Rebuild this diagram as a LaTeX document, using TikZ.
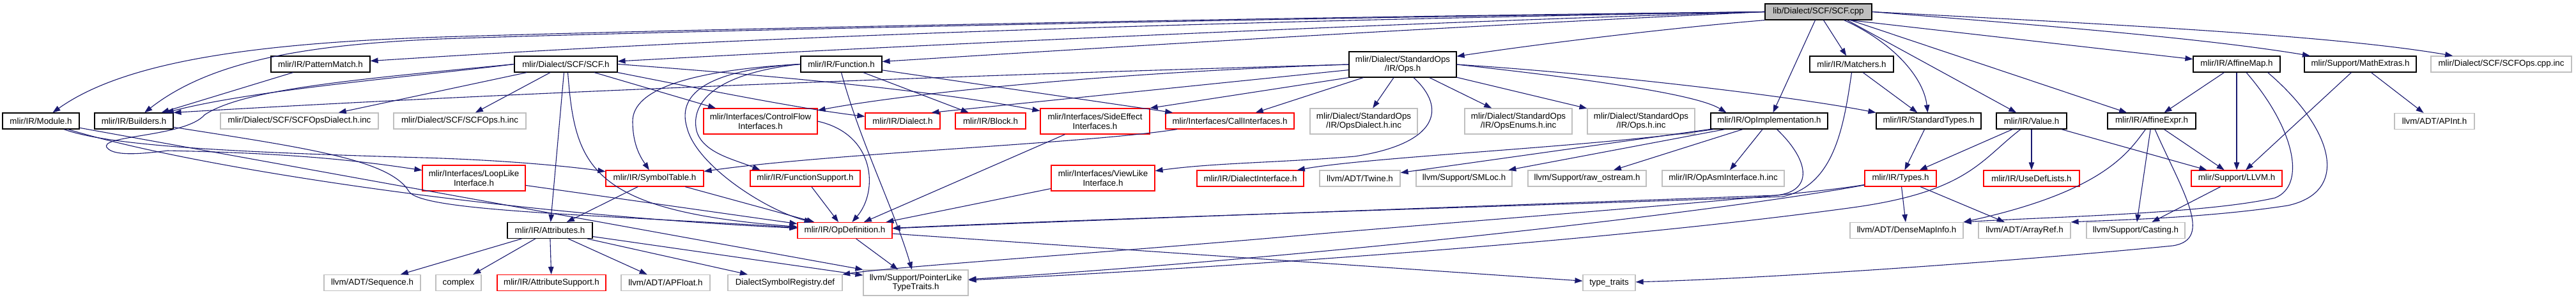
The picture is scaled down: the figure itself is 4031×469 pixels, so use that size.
\documentclass[tikz,border=0pt]{standalone}
\usepackage{fontspec}
\setmainfont{Liberation Sans}
\usepackage{tikz}
\usetikzlibrary{arrows.meta,calc}
\definecolor{edgeblue}{RGB}{25,25,112}
\definecolor{grey75}{RGB}{191,191,191}
\definecolor{truncred}{RGB}{255,0,0}
\newcommand{\nodefont}{\fontsize{13.33pt}{14.5pt}\selectfont}

\begin{document}
\begin{tikzpicture}[
  x=1pt, y=-1pt,
  hdr/.style={draw=black, fill=white, line width=1.15pt, minimum height=25pt, inner sep=0pt, font=\nodefont, align=center},
  ext/.style={hdr, draw=grey75},
  trunc/.style={hdr, draw=truncred},
  src/.style={hdr, fill=grey75},
  two/.style={minimum height=40pt},
  dep/.style={draw=edgeblue, line width=1.1pt, -{Triangle[length=12pt,width=8.5pt]}},
]
\path[use as bounding box, fill=white] (0,0) rectangle (4031,469);

% source file
\node[src, minimum width=167pt] (root) at (2845.5,18.5) {lib/Dialect/SCF/SCF.cpp};

% first level
\node[hdr, minimum width=155pt] (pm) at (501.5,100.5) {mlir/IR/PatternMatch.h};
\node[hdr, minimum width=161pt] (scf) at (885.5,100.5) {mlir/Dialect/SCF/SCF.h};
\node[hdr, minimum width=127pt] (fn) at (1316.5,100.5) {mlir/IR/Function.h};
\node[hdr, two, minimum width=168pt] (ops) at (2195,101) {mlir/Dialect/StandardOps\\/IR/Ops.h};
\node[hdr, minimum width=131pt] (match) at (2897.5,100.5) {mlir/IR/Matchers.h};
\node[hdr, minimum width=136pt] (amap) at (3500,100.5) {mlir/IR/AffineMap.h};
\node[hdr, minimum width=175pt] (mext) at (3693.5,100.5) {mlir/Support/MathExtras.h};
\node[ext, minimum width=220pt] (cppinc) at (3914,100.5) {mlir/Dialect/SCF/SCFOps.cpp.inc};

% second level
\node[hdr, minimum width=120pt] (module) at (64,189.5) {mlir/IR/Module.h};
\node[hdr, minimum width=123pt] (build) at (209.5,189.5) {mlir/IR/Builders.h};
\node[ext, minimum width=247pt] (dialinc) at (468.5,189.5) {mlir/Dialect/SCF/SCFOpsDialect.h.inc};
\node[ext, minimum width=207pt] (opsinc) at (719.5,189.5) {mlir/Dialect/SCF/SCFOps.h.inc};
\node[trunc, two, minimum width=178pt] (cfi) at (1190,190) {mlir/Interfaces/ControlFlow\\Interfaces.h};
\node[trunc, minimum width=117pt] (dial) at (1412.5,189.5) {mlir/IR/Dialect.h};
\node[trunc, minimum width=110pt] (block) at (1550,189.5) {mlir/IR/Block.h};
\node[trunc, two, minimum width=171pt] (sei) at (1713.5,190) {mlir/Interfaces/SideEffect\\Interfaces.h};
\node[trunc, minimum width=201pt] (cai) at (1924.5,189.5) {mlir/Interfaces/CallInterfaces.h};
\node[ext, two, minimum width=168pt] (stddial) at (2134,190) {mlir/Dialect/StandardOps\\/IR/OpsDialect.h.inc};
\node[ext, two, minimum width=168pt] (stdenum) at (2376,190) {mlir/Dialect/StandardOps\\/IR/OpsEnums.h.inc};
\node[ext, two, minimum width=168pt] (stdinc) at (2568,190) {mlir/Dialect/StandardOps\\/IR/Ops.h.inc};
\node[hdr, minimum width=183pt] (opimpl) at (2768.5,189.5) {mlir/IR/OpImplementation.h};
\node[hdr, minimum width=164pt] (stypes) at (3018,189.5) {mlir/IR/StandardTypes.h};
\node[hdr, minimum width=110pt] (value) at (3179,189.5) {mlir/IR/Value.h};
\node[hdr, minimum width=138pt] (aexpr) at (3367,189.5) {mlir/IR/AffineExpr.h};
\node[ext, minimum width=125pt] (apint) at (3809.5,190) {llvm/ADT/APInt.h};

% third level
\node[trunc, two, minimum width=161pt] (loop) at (741.5,279) {mlir/Interfaces/LoopLike\\Interface.h};
\node[trunc, minimum width=153pt] (symtab) at (1024.5,279.5) {mlir/IR/SymbolTable.h};
\node[trunc, minimum width=172pt] (fsup) at (1260,279.5) {mlir/IR/FunctionSupport.h};
\node[trunc, two, minimum width=162pt] (view) at (1726,279) {mlir/Interfaces/ViewLike\\Interface.h};
\node[trunc, minimum width=167pt] (dint) at (1956.5,279.5) {mlir/IR/DialectInterface.h};
\node[ext, minimum width=126pt] (twine) at (2128,279.5) {llvm/ADT/Twine.h};
\node[ext, minimum width=150pt] (smloc) at (2291,279.5) {llvm/Support/SMLoc.h};
\node[ext, minimum width=185pt] (rawos) at (2483.5,279.5) {llvm/Support/raw\_ostream.h};
\node[ext, minimum width=191pt] (asminc) at (2696.5,279.5) {mlir/IR/OpAsmInterface.h.inc};
\node[trunc, minimum width=112pt] (types) at (2974,279.5) {mlir/IR/Types.h};
\node[trunc, minimum width=150pt] (usedef) at (3179,279.5) {mlir/IR/UseDefLists.h};
\node[trunc, minimum width=142pt] (llvm) at (3500,279.5) {mlir/Support/LLVM.h};

% fourth level
\node[hdr, minimum width=133pt] (attr) at (860.5,361) {mlir/IR/Attributes.h};
\node[trunc, minimum width=148pt] (opdef) at (1322,361) {mlir/IR/OpDefinition.h};
\node[ext, minimum width=177pt] (dmi) at (2983.5,361) {llvm/ADT/DenseMapInfo.h};
\node[ext, minimum width=144pt] (aref) at (3168,361) {llvm/ADT/ArrayRef.h};
\node[ext, minimum width=154pt] (cast) at (3342,361) {llvm/Support/Casting.h};

% bottom level
\node[ext, minimum width=151pt] (seq) at (582.5,443) {llvm/ADT/Sequence.h};
\node[ext, minimum width=71pt] (cplx) at (717.5,443) {complex};
\node[trunc, minimum width=170pt] (asup) at (863,443) {mlir/IR/AttributeSupport.h};
\node[ext, minimum width=139pt] (apf) at (1041.5,443) {llvm/ADT/APFloat.h};
\node[ext, minimum width=179pt] (dsr) at (1228.5,443) {DialectSymbolRegistry.def};
\node[ext, two, minimum width=164pt] (ptl) at (1433,443) {llvm/Support/PointerLike\\TypeTraits.h};
\node[ext, minimum width=82pt] (tt) at (2518,443) {type\_traits};

% includes of SCF.cpp
\draw[dep] (root.west) .. controls (1900,28) and (1000,48) .. (690,58) .. controls (380,68) and (190,100) .. (module);
\draw[dep] (root.west) .. controls (1900,30) and (1000,50) .. (690,61) .. controls (480,70) and (330,95) .. (build);
\draw[dep] (root.west) .. controls (1500,40) and (900,75) .. (pm);
\draw[dep] (root.west) .. controls (2200,35) and (1400,72) .. (scf);
\draw[dep] (root.west) .. controls (2300,40) and (1800,70) .. (fn);
\draw[dep] (root.south west) .. controls (2600,45) and (2400,70) .. (ops);
\draw[dep] ($(root.south)+(-5,0)$) -- (opimpl);
\draw[dep] ($(root.south)+(8,0)$) -- (match);
\draw[dep] ($(root.south)+(40,0)$) .. controls (2960,65) and (3010,120) .. (stypes);
\draw[dep] ($(root.south)+(45,0)$) -- (value);
\draw[dep] ($(root.south)+(50,0)$) -- (aexpr);
\draw[dep] ($(root.south east)+(-35,0)$) -- (amap);
\draw[dep] (root.east) .. controls (3200,40) and (3450,60) .. (mext);
\draw[dep] (root.east) .. controls (3300,38) and (3650,55) .. (cppinc);

% SCF.h
\draw[dep] (scf.west) .. controls (650,120) and (400,140) .. (build);
\draw[dep] (scf.west) .. controls (550,125) and (380,140) .. (320,180) .. controls (290,215) and (150,212) .. (168,232) .. controls (180,246) and (230,240) .. (262,236) .. controls (450,240) and (550,250) .. (loop);
\draw[dep] (scf) -- (dialinc);
\draw[dep] (scf) -- (opsinc);
\draw[dep] ($(scf.south)+(-3,0)$) -- (attr);
\draw[dep] ($(scf.south)+(3,0)$) .. controls (900,260) and (920,330) .. (opdef);
\draw[dep] (scf) -- (cfi);
\draw[dep] (scf.east) .. controls (1200,118) and (1450,140) .. (sei);
\draw[dep] (scf.south east) .. controls (1100,140) and (1250,170) .. (dial);
\draw[dep] (pm) -- (build);

% Function.h
\draw[dep] (fn) -- (block);
\draw[dep] (fn) -- (cai);
\draw[dep] (fn.west) .. controls (1080,110) and (990,140) .. (990,190) .. controls (990,230) and (1005,250) .. (symtab);
\draw[dep] (fn.west) .. controls (1100,110) and (1060,150) .. (1075,200) .. controls (1090,260) and (1200,330) .. (opdef);
\draw[dep] (fn.west) .. controls (1120,115) and (1080,160) .. (1090,205) .. controls (1100,240) and (1150,250) .. ($(fsup.north west)+(16,0)$);
\draw[dep] (fn.south) .. controls (1345,220) and (1400,330) .. (ptl);

% StandardOps/IR/Ops.h
\draw[dep] (ops.west) .. controls (1500,118) and (800,145) .. (build.north east);
\draw[dep] (ops) -- ($(dial.north)+(45,0)$);
\draw[dep] (ops.west) .. controls (1700,115) and (1400,150) .. (cfi);
\draw[dep] (ops.south west) -- (sei.north east);
\draw[dep] ($(ops.south west)+(23,0)$) -- (cai);
\draw[dep] ($(ops.south)+(17,0)$) .. controls (2265,170) and (2250,225) .. (2120,245) .. controls (2000,255) and (1900,255) .. (view);
\draw[dep] (ops) -- (stddial);
\draw[dep] (ops) -- (stdenum);
\draw[dep] (ops) -- (stdinc);
\draw[dep] (ops.east) .. controls (2450,120) and (2650,145) .. ($(opimpl.north west)+(25,0)$);
\draw[dep] (ops.east) .. controls (2500,115) and (2800,150) .. (stypes.north west);

% interfaces and tables
\draw[dep] (cfi.east) .. controls (1370,210) and (1375,300) .. (opdef);
\draw[dep] (sei) -- (opdef);
\draw[dep] (cai) .. controls (1700,225) and (1300,240) .. (symtab);
\draw[dep] (view) -- (opdef);
\draw[dep] (fsup) -- (opdef);
\draw[dep] (symtab) -- (attr);
\draw[dep] (symtab) -- (opdef);
\draw[dep] (loop) -- (opdef);

% Module.h and Builders.h
\draw[dep] (module) .. controls (170,228) and (350,238) .. (660,247) .. controls (800,251) and (900,262) .. (symtab);
\draw[dep] (module) .. controls (300,262) and (780,335) .. (opdef);
\draw[dep] (module) -- (ptl.north west);
\draw[dep] (build) .. controls (480,232) and (610,250) .. (640,300) .. controls (660,330) and (900,335) .. (opdef);

% Attributes.h
\draw[dep] (attr) -- (seq);
\draw[dep] (attr) -- (cplx);
\draw[dep] (attr) -- (asup);
\draw[dep] (attr) -- (apf);
\draw[dep] (attr) -- (dsr);
\draw[dep] (attr) -- (ptl);

% OpDefinition.h
\draw[dep] (opdef) -- (ptl);
\draw[dep] (opdef) -- (tt);

% OpImplementation.h and Matchers.h
\draw[dep] ($(opimpl.south)+(12,0)$) .. controls (2835,255) and (2835,300) .. (2780,306) .. controls (2400,320) and (1700,345) .. (opdef);
\draw[dep] (match.south) .. controls (2885,200) and (2870,290) .. (2790,308) .. controls (2400,322) and (1700,343) .. (opdef);
\draw[dep] (opimpl) .. controls (2500,230) and (2150,245) .. (dint);
\draw[dep] (opimpl) -- (twine);
\draw[dep] (opimpl) -- (smloc);
\draw[dep] (opimpl) -- (rawos);
\draw[dep] (opimpl) -- (asminc);
\draw[dep] (match) -- (stypes);

% types and values
\draw[dep] (stypes) -- (types);
\draw[dep] (value) -- (types);
\draw[dep] (value) -- (usedef);
\draw[dep] (value) -- (llvm);
\draw[dep] (value) .. controls (3100,250) and (3080,300) .. (2900,325) .. controls (2500,380) and (1900,420) .. (ptl);
\draw[dep] (types) -- (dmi);
\draw[dep] (types) -- (aref);
\draw[dep] (types) .. controls (2800,310) and (2300,345) .. (2000,372) .. controls (1700,398) and (1400,418) .. (dsr);
\draw[dep] (types) .. controls (2700,330) and (2100,400) .. (ptl);

% affine maps and support
\draw[dep] (aexpr) .. controls (3330,240) and (3290,300) .. (dmi.north east);
\draw[dep] (aexpr) -- (cast);
\draw[dep] ($(aexpr.south)+(5,0)$) .. controls (3415,300) and (3465,375) .. (3400,385) .. controls (3200,405) and (2800,435) .. (tt);
\draw[dep] (aexpr) -- (llvm);
\draw[dep] (amap) -- (aexpr);
\draw[dep] (amap) -- (llvm);
\draw[dep] ($(amap.south)+(15,0)$) .. controls (3590,200) and (3610,290) .. (3560,310) .. controls (3450,335) and (3200,340) .. (dmi.north east);
\draw[dep] ($(amap.south east)+(-20,0)$) .. controls (3650,200) and (3680,300) .. (3580,322) .. controls (3450,342) and (3300,345) .. (aref.north east);
\draw[dep] (mext) -- (llvm);
\draw[dep] (mext) -- (apint);
\draw[dep] (llvm) -- (cast);
\end{tikzpicture}
\end{document}
